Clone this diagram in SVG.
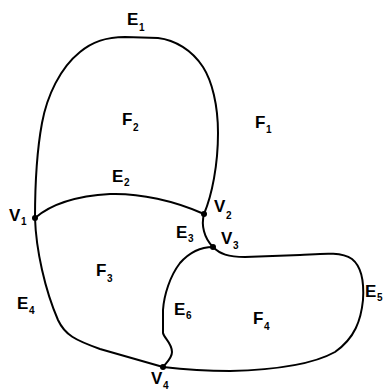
<svg xmlns="http://www.w3.org/2000/svg" width="384" height="392" viewBox="0 0 384 392">
<style>
.e{fill:none;stroke:#000;stroke-width:2;stroke-linecap:round;stroke-linejoin:round}
.v{fill:#000}
text{font-family:"Liberation Sans",Arial,sans-serif;font-weight:bold;fill:#000}
.m{font-size:17px}
.s{font-size:10px}
</style>
<rect width="384" height="392" fill="#fff"/>
<g id="connectors">
<path id="E1" class="e" d="M35,218 C35,185 37,150 42,123 C47,96 60,68 80,52 C92,42 105,37 125,37 L158,38 C175,40 192,50 203,67 C212,81 218,105 218,133 C218,165 212,195 204,214"/>
<path id="E2" class="e" d="M35,218 C50,205 75,196 110,194 C140,193 175,201 204,214"/>
<path id="E3" class="e" d="M204,214 C201,225 204,238 213,247"/>
<path id="E4" class="e" d="M35,218 C36,250 45,290 58,320 C65,335 75,340 100,349 L163,367"/>
<path id="E5" class="e" d="M213,247 C220,254 228,257 245,257 L300,255 C320,254 340,251 352,259 C362,267 364,285 363,300 C361,320 355,338 335,352 C310,366 270,370 230,371 C200,371 180,369 163,367"/>
<path id="E6" class="e" d="M213,247 C200,247 188,254 180,263 C170,276 164,295 163,310 L163,333 C164,338 172,343 172,352 C172,358 167,362 163,367"/>
</g>
<g id="V1"><circle class="v" cx="35" cy="218" r="3"/><text class="m" x="9" y="221">V</text><text class="s" x="21" y="225">1</text></g>
<g id="V2"><circle class="v" cx="204" cy="214" r="3"/><text class="m" x="214" y="212">V</text><text class="s" x="226" y="219">2</text></g>
<g id="V3"><circle class="v" cx="213" cy="247" r="3"/><text class="m" x="221" y="244">V</text><text class="s" x="233" y="249">3</text></g>
<g id="V4"><circle class="v" cx="163" cy="367" r="3"/><text class="m" x="151" y="384">V</text><text class="s" x="163" y="389">4</text></g>
<g id="F1"><text class="m" x="255" y="128">F</text><text class="s" x="266" y="133">1</text></g>
<g id="F2"><text class="m" x="122" y="125">F</text><text class="s" x="133" y="131">2</text></g>
<g id="F3"><text class="m" x="96" y="276">F</text><text class="s" x="107" y="282">3</text></g>
<g id="F4"><text class="m" x="253" y="324">F</text><text class="s" x="264" y="330">4</text></g>
<g id="labels">
<text class="m" x="127" y="25">E</text><text class="s" x="139" y="31">1</text>
<text class="m" x="112" y="182">E</text><text class="s" x="124" y="186">2</text>
<text class="m" x="176" y="238">E</text><text class="s" x="188" y="242">3</text>
<text class="m" x="17" y="309">E</text><text class="s" x="29" y="314">4</text>
<text class="m" x="365" y="297">E</text><text class="s" x="377" y="301">5</text>
<text class="m" x="174" y="315">E</text><text class="s" x="186" y="319">6</text>
</g>
</svg>
